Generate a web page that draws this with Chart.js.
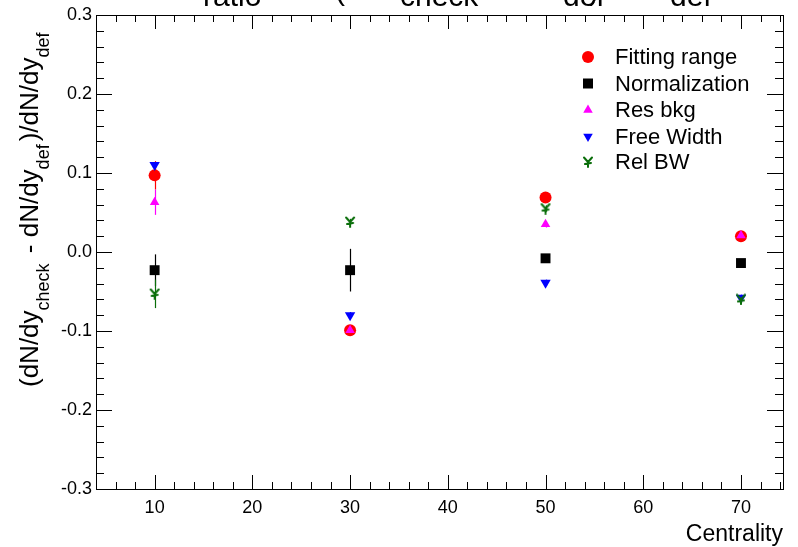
<!DOCTYPE html>
<html>
<head>
<meta charset="utf-8">
<script src="https://cdn.jsdelivr.net/npm/chart.js@4/dist/chart.umd.min.js"></script>
<style>
  html, body { margin: 0; padding: 0; background: #fff; }
  canvas { display: block; }
</style>
</head>
<body>
<canvas id="c" width="798" height="547"></canvas>
<script>
// Centrality bins and the relative yield deviation for each systematic check
const CENTRALITY = [10, 30, 50, 70];

const FITTING_RANGE     = [0.097, -0.099, 0.069, 0.020];
const FITTING_RANGE_ERR = [0.018, 0.004, 0.004, 0.004];

const NORMALIZATION     = [-0.023, -0.023, -0.008, -0.014];
const NORMALIZATION_ERR = [0.020, 0.027, 0.004, 0.004];

const RES_BKG     = [0.063, -0.099, 0.035, 0.021];
const RES_BKG_ERR = [0.016, 0.004, 0.004, 0.004];

const FREE_WIDTH     = [0.110, -0.080, -0.039, -0.058];
const FREE_WIDTH_ERR = [0.004, 0.004, 0.004, 0.004];

const REL_BW     = [-0.053, 0.038, 0.055, -0.060];
const REL_BW_ERR = [0.018, 0.004, 0.004, 0.004];

const X_TICKS = [10, 20, 30, 40, 50, 60, 70];
const Y_TICKS = [-0.3, -0.2, -0.1, 0.0, 0.1, 0.2, 0.3];

const X_MIN = 4, X_MAX = 74.3;
const Y_MIN = -0.3, Y_MAX = 0.3;

const FONT = '"Liberation Sans", Arial, Helvetica, sans-serif';

// "Rel BW" marker: a small Y-shaped glyph with a cross bar
function makeRelBwMarker(color) {
  const cv = document.createElement('canvas');
  cv.width = 12; cv.height = 12;
  const g = cv.getContext('2d');
  g.strokeStyle = color;
  g.lineWidth = 2;
  g.lineCap = 'round';
  g.beginPath();
  g.moveTo(2, 1.5); g.lineTo(6, 6);
  g.moveTo(10, 1.5); g.lineTo(6, 6);
  g.moveTo(6, 6); g.lineTo(6, 11);
  g.moveTo(3, 8); g.lineTo(9, 7);
  g.stroke();
  return cv;
}

const GREEN = '#0a6e0a';
const relBwMarker = makeRelBwMarker(GREEN);

function pts(vals) {
  return CENTRALITY.map((x, i) => ({ x: x, y: vals[i] }));
}

const series = [
  { label: 'Fitting range', data: FITTING_RANGE, err: FITTING_RANGE_ERR, color: '#ff0000', style: 'circle', radius: 6, rotation: 0, order: 5 },
  { label: 'Normalization', data: NORMALIZATION, err: NORMALIZATION_ERR, color: '#000000', style: 'rect', radius: 7, rotation: 0, order: 4 },
  { label: 'Res bkg', data: RES_BKG, err: RES_BKG_ERR, color: '#ff00ff', style: 'triangle', radius: 5.5, rotation: 0, order: 3 },
  { label: 'Free Width', data: FREE_WIDTH, err: FREE_WIDTH_ERR, color: '#0000ff', style: 'triangle', radius: 6, rotation: 180, order: 2 },
  { label: 'Rel BW', data: REL_BW, err: REL_BW_ERR, color: GREEN, style: relBwMarker, radius: 6, rotation: 0, order: 1 }
];

// Vertical error bars, frame, inward tick marks, legend and titles
const decorations = {
  id: 'decorations',
  beforeDatasetsDraw(chart) {
    const ctx = chart.ctx;
    const xs = chart.scales.x, ys = chart.scales.y;
    ctx.save();
    ctx.lineWidth = 1.2;
    series.forEach(s => {
      ctx.strokeStyle = s.color;
      CENTRALITY.forEach((c, i) => {
        const px = Math.round(xs.getPixelForValue(c)) + 0.5;
        const y1 = ys.getPixelForValue(s.data[i] + s.err[i]);
        const y2 = ys.getPixelForValue(s.data[i] - s.err[i]);
        ctx.beginPath();
        ctx.moveTo(px, y1);
        ctx.lineTo(px, y2);
        ctx.stroke();
      });
    });
    ctx.restore();
  },
  afterDraw(chart) {
    const ctx = chart.ctx;
    const a = chart.chartArea;
    const xs = chart.scales.x, ys = chart.scales.y;
    ctx.save();

    // frame
    ctx.strokeStyle = '#000';
    ctx.lineWidth = 1;
    ctx.strokeRect(Math.round(a.left) + 0.5, Math.round(a.top) + 0.5,
                   Math.round(a.right - a.left), Math.round(a.bottom - a.top));

    // x tick marks (bottom and top, pointing inward)
    ctx.beginPath();
    for (let v = 4; v <= X_MAX + 1e-9; v += 2) {
      const major = Math.abs(v % 10) < 1e-9;
      const len = major ? 14 : 7;
      const px = Math.round(xs.getPixelForValue(v)) + 0.5;
      ctx.moveTo(px, a.bottom); ctx.lineTo(px, a.bottom - len);
      ctx.moveTo(px, a.top); ctx.lineTo(px, a.top + len);
    }
    // y tick marks (left and right, pointing inward)
    for (let k = -15; k <= 15; k++) {
      const v = k * 0.02;
      const major = k % 5 === 0;
      const len = major ? 16 : 8;
      const py = Math.round(ys.getPixelForValue(v)) + 0.5;
      ctx.moveTo(a.left, py); ctx.lineTo(a.left + len, py);
      ctx.moveTo(a.right, py); ctx.lineTo(a.right - len, py);
    }
    ctx.stroke();

    // legend
    const lx = 588, tx = 615;
    const rows = [57, 83.5, 110, 136.5, 162];
    ctx.textBaseline = 'middle';
    ctx.textAlign = 'left';
    ctx.font = '22px ' + FONT;
    series.forEach((s, i) => {
      const y = rows[i];
      ctx.fillStyle = s.color;
      ctx.strokeStyle = s.color;
      if (s.style === 'circle') {
        ctx.beginPath(); ctx.arc(lx, y, 6, 0, Math.PI * 2); ctx.fill();
      } else if (s.style === 'rect') {
        ctx.fillRect(lx - 5, y - 5, 10, 10);
      } else if (s.style === 'triangle') {
        const r = 5.5;
        const dir = s.rotation === 180 ? -1 : 1;
        ctx.beginPath();
        ctx.moveTo(lx, y - dir * r);
        ctx.lineTo(lx + r * 0.866, y + dir * r * 0.5);
        ctx.lineTo(lx - r * 0.866, y + dir * r * 0.5);
        ctx.closePath(); ctx.fill();
      } else {
        ctx.drawImage(s.style, lx - 6, y - 6);
      }
      ctx.fillStyle = '#000';
      ctx.fillText(s.label, tx, y + 1);
    });

    // x axis title
    ctx.fillStyle = '#000';
    ctx.textAlign = 'right';
    ctx.textBaseline = 'alphabetic';
    ctx.font = '23px ' + FONT;
    ctx.fillText('Centrality', 783, 541);

    // y axis title with subscripts, rotated
    const M = 26, S = 18;
    const parts = [
      ['(dN/dy', M], ['check', S], [' - dN/dy', M], ['def', S],
      [')/dN/dy', M], ['def', S]
    ];
    ctx.save();
    ctx.translate(38, 387);
    ctx.rotate(-Math.PI / 2);
    ctx.textAlign = 'left';
    let cx = 0;
    parts.forEach(([t, sz]) => {
      ctx.font = sz + 'px ' + FONT;
      const off = sz === M ? 0 : 11;
      ctx.fillText(t, cx, off);
      cx += ctx.measureText(t).width + (sz === S ? 3 : 0);
    });
    ctx.restore();

    // title along the top edge (main line sits above the canvas)
    ctx.textAlign = 'left';
    ctx.font = '30px ' + FONT;
    ctx.fillText('dN/dy', 120, -9);
    ctx.fillText('ratio', 203, 6);
    ctx.fillText(' = ', 268, -9);
    ctx.fillText('(', 335, 0);
    ctx.fillText('dN/dy', 330, -9);
    ctx.fillText('check', 400, 6);
    ctx.fillText(' - dN/dy', 480, -9);
    ctx.fillText('def', 563, 6);
    ctx.fillText(')', 589, 0);
    ctx.fillText('/dN/dy', 600, -9);
    ctx.fillText('def', 670, 6);

    ctx.restore();
  }
};

new Chart(document.getElementById('c'), {
  type: 'scatter',
  data: {
    datasets: series.map(s => ({
      label: s.label,
      data: pts(s.data),
      pointStyle: s.style,
      pointRadius: s.radius,
      pointHoverRadius: s.radius,
      pointRotation: s.rotation,
      backgroundColor: s.color,
      borderColor: s.color,
      borderWidth: 0,
      order: s.order
    }))
  },
  options: {
    responsive: false,
    devicePixelRatio: 1,
    animation: false,
    events: [],
    layout: { padding: { top: 15, right: 15, left: 0, bottom: 0 } },
    plugins: {
      legend: { display: false },
      tooltip: { enabled: false },
      title: { display: false }
    },
    scales: {
      x: {
        type: 'linear',
        min: X_MIN,
        max: X_MAX,
        grid: { display: false, drawTicks: false },
        border: { display: false },
        afterBuildTicks: s => { s.ticks = X_TICKS.map(v => ({ value: v })); },
        afterFit: s => { s.height = 58; },
        ticks: {
          color: '#000',
          padding: 8,
          maxRotation: 0,
          autoSkip: false,
          font: { family: FONT, size: 18 },
          callback: v => String(v)
        }
      },
      y: {
        type: 'linear',
        min: Y_MIN,
        max: Y_MAX,
        grid: { display: false, drawTicks: false },
        border: { display: false },
        afterBuildTicks: s => { s.ticks = Y_TICKS.map(v => ({ value: v })); },
        afterFit: s => { s.width = 96; },
        ticks: {
          color: '#000',
          padding: 4,
          autoSkip: false,
          font: { family: FONT, size: 18 },
          callback: v => Number(v).toFixed(1)
        }
      }
    }
  },
  plugins: [decorations]
});
</script>
</body>
</html>
